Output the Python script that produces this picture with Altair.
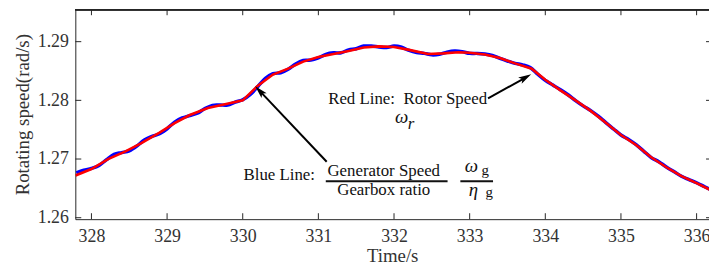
import altair as alt
import pandas as pd

FONT = "Liberation Serif"

# ---- data ----
red_t = [327.79, 328.0, 328.22, 328.45, 328.66, 328.9, 329.1, 329.3, 329.54, 329.75,
         330.0, 330.2, 330.4, 330.6, 330.8, 331.0, 331.2, 331.4, 331.6, 331.8,
         332.0, 332.2, 332.45, 332.65, 332.85, 333.0, 333.2, 333.4, 333.6, 333.82,
         334.0, 334.2, 334.4, 334.6, 334.8, 335.0, 335.2, 335.4, 335.6, 335.8,
         336.0, 336.17]
red_v = [1.2672, 1.2683, 1.2700, 1.2713, 1.2727, 1.2745, 1.2761, 1.2775, 1.2787, 1.2793,
         1.2800, 1.2825, 1.2844, 1.2854, 1.2866, 1.2874, 1.2879, 1.2884, 1.2890, 1.2892,
         1.2891, 1.2886, 1.2879, 1.2880, 1.2882, 1.2881, 1.2878, 1.2872, 1.2863, 1.2854,
         1.2835, 1.2817, 1.2800, 1.2782, 1.2762, 1.2741, 1.2724, 1.2703, 1.2686, 1.2671,
         1.2659, 1.2648]

blue_t = [327.8, 327.9, 328.0, 328.1, 328.2, 328.3, 328.4, 328.5, 328.6, 328.7,
          328.8, 328.9, 329.0, 329.1, 329.2, 329.3, 329.4, 329.5, 329.6, 329.7,
          329.8, 329.9, 330.0, 330.1, 330.2, 330.3, 330.4, 330.5, 330.6, 330.7,
          330.8, 330.9, 331.0, 331.1, 331.2, 331.3, 331.4, 331.5, 331.6, 331.7,
          331.8, 331.9, 332.0, 332.1, 332.2, 332.3, 332.4, 332.5, 332.6, 332.7,
          332.8, 332.9, 333.0, 333.1, 333.2, 333.3, 333.4, 333.5, 333.6, 333.7,
          333.8, 333.9, 334.0, 334.1, 334.2, 334.3, 334.4, 334.5, 334.6, 334.7,
          334.8, 334.9, 335.0, 335.1, 335.2, 335.3, 335.4, 335.5, 335.6, 335.7,
          335.8, 335.9, 336.0, 336.1, 336.2]
blue_v = [1.26765, 1.2681, 1.2684, 1.2689, 1.2699, 1.2708, 1.2711, 1.2714, 1.2722, 1.27325,
          1.27385, 1.2743, 1.27515, 1.2763, 1.2770, 1.2774, 1.2778, 1.2786, 1.27915, 1.2792,
          1.2792, 1.2797, 1.2801, 1.2810, 1.28235, 1.28375, 1.28455, 1.2847, 1.2853, 1.2862,
          1.2868, 1.28685, 1.28725, 1.28785, 1.2881, 1.2881, 1.2886, 1.2888, 1.28925, 1.28925,
          1.2891, 1.2890, 1.28925, 1.28905, 1.2885, 1.28815, 1.2880, 1.28775, 1.28785, 1.2882,
          1.2884, 1.2883, 1.2880, 1.2880, 1.2879, 1.28765, 1.28715, 1.2867, 1.2863, 1.28605,
          1.2856, 1.28445, 1.2834, 1.2826, 1.2818, 1.28095, 1.27995, 1.27905, 1.27825, 1.2773,
          1.2762, 1.27515, 1.2741, 1.27335, 1.27245, 1.27135, 1.27025, 1.26955, 1.26865, 1.26787,
          1.26705, 1.2665, 1.26595, 1.26532, 1.26467]

x_ticks = [328, 329, 330, 331, 332, 333, 334, 335, 336]
y_ticks = [1.26, 1.27, 1.28, 1.29]
x_domain = [327.787, 336.164]
y_domain = [1.25975, 1.29552]

# annotation texts (position in data units)
ann_plain_label = ["Red Line:\u00a0\u00a0Rotor Speed", "Blue Line:", "Generator Speed", "Gearbox ratio"]
ann_plain_t = [332.18, 330.483, 331.864, 331.864]
ann_plain_v = [1.2802, 1.26734, 1.26793, 1.26472]

ann_greek_label = ["ω", "ω", "η"]
ann_greek_t = [332.10, 333.022, 333.048]
ann_greek_v = [1.27713, 1.26886, 1.26464]

ann_subi_label = ["r"]
ann_subi_t = [332.224]
ann_subi_v = [1.27600]

ann_sub_label = ["g", "g"]
ann_sub_t = [333.205, 333.257]
ann_sub_v = [1.26818, 1.2643]

bar_t = [331.098, 332.877]
bar_t2 = [332.708, 333.309]
bar_v = [1.26621, 1.26621]

arrow_t = [331.11, 333.243]
arrow_v = [1.26953, 1.28033]
arrow_t2 = [330.224, 333.739]
arrow_v2 = [1.28161, 1.28389]
arrow_angle = [316.5, 60.8]

# ---- chart ----
xs = alt.Scale(domain=x_domain, nice=False, zero=False)
ys = alt.Scale(domain=y_domain, nice=False, zero=False)

x_axis = alt.Axis(values=x_ticks, format="d", title="Time/s", labelPadding=9,
                  titlePadding=1, domainColor="#262626", ticks=False, tickSize=0, grid=False)
y_axis = alt.Axis(values=y_ticks, format=".2f", title="Rotating speed(rad/s)", labelPadding=7,
                  titlePadding=5, domainColor="#262626", ticks=False, tickSize=0, grid=False)

X = alt.X("t:Q", scale=xs, axis=x_axis)
Y = alt.Y("v:Q", scale=ys, axis=y_axis)

blue_df = pd.DataFrame({"t": blue_t, "v": blue_v})
red_df = pd.DataFrame({"t": red_t, "v": red_v})

blue = alt.Chart(blue_df).mark_line(color="#0000ff", strokeWidth=3.5, clip=True,
                                    interpolate="cardinal").encode(x=X, y=Y)
red = alt.Chart(red_df).mark_line(color="#ff0000", strokeWidth=2.6, clip=True).encode(x=X, y=Y)

xt_df = pd.DataFrame({"t": x_ticks})
yt_df = pd.DataFrame({"v": y_ticks})
tick_style = dict(color="#262626", strokeWidth=1)
xt_bottom = alt.Chart(xt_df).mark_rule(**tick_style).encode(
    x=X, y=alt.value(212), y2=alt.value(206))
xt_top = alt.Chart(xt_df).mark_rule(**tick_style).encode(
    x=X, y=alt.value(0), y2=alt.value(6))
yt_left = alt.Chart(yt_df).mark_rule(**tick_style).encode(
    y=Y, x=alt.value(0), x2=alt.value(6))
yt_right = alt.Chart(yt_df).mark_rule(**tick_style).encode(
    y=Y, x=alt.value(637), x2=alt.value(640))
top_frame = alt.Chart(xt_df).mark_rule(**tick_style).encode(
    x=alt.value(0), x2=alt.value(640), y=alt.value(0.5))

plain_df = pd.DataFrame({"t": ann_plain_t, "v": ann_plain_v, "label": ann_plain_label})
greek_df = pd.DataFrame({"t": ann_greek_t, "v": ann_greek_v, "label": ann_greek_label})
subi_df = pd.DataFrame({"t": ann_subi_t, "v": ann_subi_v, "label": ann_subi_label})
sub_df = pd.DataFrame({"t": ann_sub_t, "v": ann_sub_v, "label": ann_sub_label})

plain = alt.Chart(plain_df).mark_text(font=FONT, fontSize=17, color="#111111",
                                      align="center", baseline="middle").encode(
    x=X, y=Y, text="label:N")
greek = alt.Chart(greek_df).mark_text(font=FONT, fontSize=19, fontStyle="italic", color="#111111",
                                      align="center", baseline="middle").encode(
    x=X, y=Y, text="label:N")
subi = alt.Chart(subi_df).mark_text(font=FONT, fontSize=17, fontStyle="italic", color="#111111",
                                    align="center", baseline="middle").encode(
    x=X, y=Y, text="label:N")
sub = alt.Chart(sub_df).mark_text(font=FONT, fontSize=15, color="#111111",
                                  align="center", baseline="middle").encode(
    x=X, y=Y, text="label:N")

bar_df = pd.DataFrame({"t": bar_t, "t2": bar_t2, "v": bar_v})
bars = alt.Chart(bar_df).mark_rule(color="#111111", strokeWidth=2).encode(
    x=X, x2="t2:Q", y=Y)

arrow_df = pd.DataFrame({"t": arrow_t, "v": arrow_v, "t2": arrow_t2, "v2": arrow_v2})
arrow_lines = alt.Chart(arrow_df).mark_rule(color="black", strokeWidth=2).encode(
    x=X, x2="t2:Q", y=Y, y2="v2:Q")
head_df = pd.DataFrame({"t": arrow_t2, "v": arrow_v2, "angle": arrow_angle})
arrow_heads = alt.Chart(head_df).mark_point(
    shape="M0,-1L0.55,1L0,0.55L-0.55,1Z", filled=True, color="black", size=170, opacity=1
).encode(x=X, y=Y, angle=alt.Angle("angle:Q", scale=None))

chart = alt.layer(
    blue, red, xt_bottom, xt_top, yt_left, yt_right, top_frame,
    arrow_lines, arrow_heads, plain, greek, subi, sub, bars
).properties(
    width=640, height=212,
    autosize=alt.AutoSizeParams(type="none"),
    padding={"left": 68, "top": 0, "right": 0, "bottom": 45},
    background="white",
).configure_view(stroke=None).configure_axis(
    labelFont=FONT, titleFont=FONT, labelFontSize=18, titleFontSize=19,
    labelColor="#333333", titleColor="#333333", titleFontWeight="normal",
)

chart.save("out.html", embed_options={"renderer": "svg", "actions": False})
